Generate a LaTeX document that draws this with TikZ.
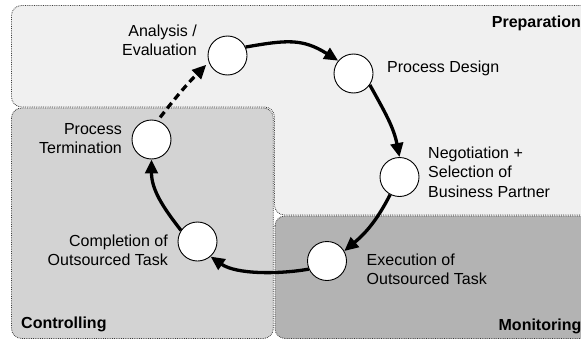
\documentclass[tikz,border=0pt]{standalone}
\usepackage{fontspec}
\setmainfont{Liberation Sans}
\usetikzlibrary{arrows.meta}
\definecolor{prepfill}{RGB}{240,240,240}
\definecolor{ctrlfill}{RGB}{211,211,211}
\definecolor{monfill}{RGB}{179,179,179}
\definecolor{zoneline}{RGB}{60,60,60}

\begin{document}
\begin{tikzpicture}[x=1pt,y=1pt,
  zone/.style={draw=zoneline, densely dotted, line width=0.8pt, rounded corners=10pt},
  stage/.style={circle, draw=black, line width=0.9pt, fill=white, minimum size=39pt, inner sep=0pt},
  lbl/.style={inner sep=0pt, font=\fontsize{16}{19.2}\selectfont, text=black},
  zonelbl/.style={inner sep=0pt, font=\fontsize{16}{19.2}\selectfont\bfseries, text=black},
  flow/.style={line width=3.3pt, -{Triangle[length=14pt,width=12.5pt]}},
  back/.style={flow, dash pattern=on 7pt off 4.5pt, shorten <=4pt, shorten >=3.5pt}
]
\useasboundingbox (0,0) rectangle (581,-340);

% phase zones
\begin{scope}
  \clip (0,0) rectangle (581,-340);
  \path[zone, fill=prepfill] (11.5,-5.5) -- (600,-5.5) -- (600,-215) -- (274.5,-215)
        -- (274.5,-107) -- (11.5,-107) -- cycle;
  \path[zone, fill=ctrlfill] (11.5,-108) rectangle (273.3,-338.5);
  \path[zone, fill=monfill] (275,-216) rectangle (600,-338.5);
\end{scope}

\node[zonelbl, anchor=north east] (zP) at (581,-16) {Preparation};
\node[zonelbl, anchor=north west] (zC) at (21,-316.5) {Controlling};
\node[zonelbl, anchor=north east] (zM) at (581.5,-319) {Monitoring};

% process stages
\node[stage] (A)  at (227.5,-55.5) {};
\node[stage] (PD) at (353.5,-73.5) {};
\node[stage] (N)  at (399.5,-177)  {};
\node[stage] (E)  at (327,-261)    {};
\node[stage] (C)  at (197.5,-241.5) {};
\node[stage] (T)  at (151.5,-139.5) {};

% stage labels
\node[lbl, align=right, anchor=north east] (tA) at (197,-25) {Analysis /\\Evaluation};
\node[lbl, anchor=north west] (tPD) at (387,-61) {Process Design};
\node[lbl, align=left, anchor=north west] (tN) at (428,-147) {Negotiation +\\Selection of\\Business Partner};
\node[lbl, align=left, anchor=north west] (tE) at (366.5,-253.3) {Execution of\\Outsourced Task};
\node[lbl, align=right, anchor=north east] (tC) at (168,-235) {Completion of\\Outsourced Task};
\node[lbl, align=right, anchor=north east] (tT) at (122,-123.3) {Process\\Termination};

% process cycle
\draw[flow] (A.25)   to[out=10, in=148, looseness=1.15] (PD.140);
\draw[flow] (PD.-35) to[out=-61, in=101] (N.90);
\draw[flow] (N.-118) to[out=-117, in=40] (E.30);
\draw[flow] (E.-156) to[out=-170, in=-35, looseness=0.8] (C.-49);
\draw[flow] (C.146)  to[out=128, in=-90] (T.-90);
\draw[back] (T.72)   to[out=52, in=-135] (A.200);
\end{tikzpicture}
\end{document}
